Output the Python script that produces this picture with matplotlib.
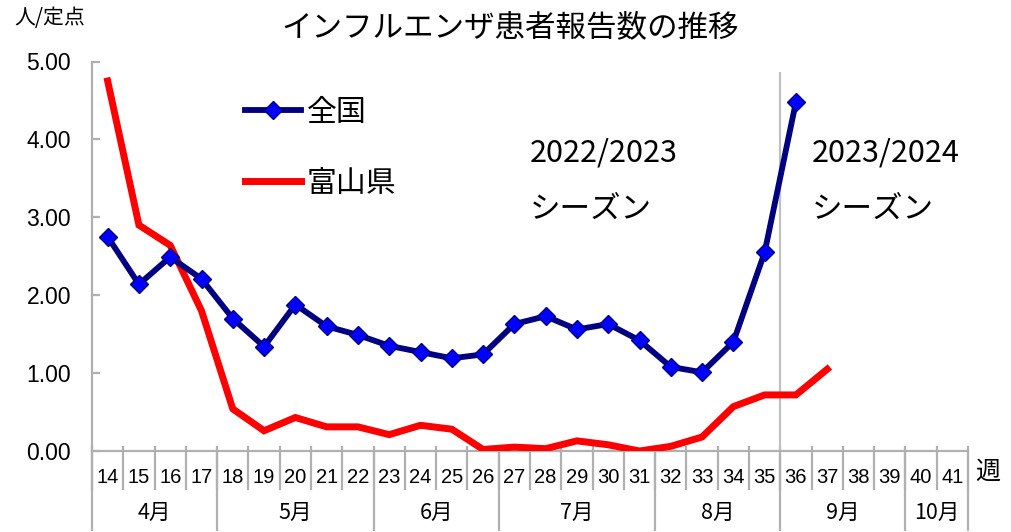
import matplotlib
matplotlib.use("Agg")
import matplotlib.pyplot as plt
import numpy as np

weeks = [str(w) for w in range(14, 42)]
national = [2.75, 2.14, 2.49, 2.21, 1.70, 1.34, 1.88, 1.60, 1.49, 1.35, 1.27, 1.19,
            1.24, 1.63, 1.73, 1.56, 1.63, 1.42, 1.08, 1.01, 1.40, 2.55, 4.48]
toyama = [4.75, 2.90, 2.64, 1.80, 0.54, 0.26, 0.43, 0.31, 0.31, 0.21, 0.33, 0.28,
          0.02, 0.05, 0.03, 0.13, 0.08, 0.00, 0.06, 0.18, 0.57, 0.72, 0.72, 1.05]
months = ["4月", "5月", "6月", "7月", "8月", "9月", "10月"]
month_weeks = [4, 5, 4, 5, 4, 4, 2]
yticks = [0, 1, 2, 3, 4, 5]
season_split = 21.5

JP = ["Noto Sans CJK JP", "DejaVu Sans"]
GRAY = "#b0b0b0"

fig = plt.figure(figsize=(10.11, 5.32), dpi=100)
W, H = 1011, 532
x0, x1, ytop, ybot = 92, 968, 61.5, 451
ax = fig.add_axes([x0 / W, 1 - ybot / H, (x1 - x0) / W, (ybot - ytop) / H])

x_nat = np.arange(len(national))
x_toy = np.arange(len(toyama))
ax.plot(x_toy, toyama, color="#ff0000", lw=5.0, solid_joinstyle="miter", label="富山県", zorder=3)
ax.plot(x_nat, national, color="#000080", lw=4.2, marker="D", markersize=9,
        markerfacecolor="#0000ff", markeredgecolor="#000080", markeredgewidth=1.0,
        label="全国", zorder=4)

ax.set_xlim(-0.5, len(weeks) - 0.5)
ax.set_ylim(0, 5)

for s in ["top", "right"]:
    ax.spines[s].set_visible(False)
for s in ["left", "bottom"]:
    ax.spines[s].set_color(GRAY)
    ax.spines[s].set_linewidth(1.6)

ax.set_yticks(yticks)
ax.set_yticklabels([f"{v:.2f}" for v in yticks], fontfamily="Liberation Sans", fontsize=16.5)
ax.tick_params(axis="y", direction="in", length=6, width=1.6, color=GRAY, pad=15)

ax.set_xticks(np.arange(len(weeks)))
ax.set_xticklabels(weeks, fontfamily=["Liberation Sans Narrow", "Liberation Sans"], fontsize=14.5)
ax.tick_params(axis="x", length=0, pad=12)

# week boundary ticks
trans = ax.get_xaxis_transform()
bounds = np.arange(len(weeks) + 1) - 0.5
hpx = ybot - ytop
ax.vlines(bounds, -39 / hpx, 5 / hpx, transform=trans, color=GRAY, lw=1.6, clip_on=False)
# month separators
cum = np.concatenate([[0], np.cumsum(month_weeks)]) - 0.5
ax.vlines(cum, -80 / hpx, 0, transform=trans, color=GRAY, lw=1.6, clip_on=False)
for i, m in enumerate(months):
    ax.text((cum[i] + cum[i + 1]) / 2, -62 / hpx, m, transform=trans, ha="center", va="center",
            fontfamily=JP, fontsize=15.5)

# season divider
ax.vlines([season_split], 0, 4.87, color="#c0c0c0", lw=1.6, zorder=2)

ax.text(1.0 + 7 / (x1 - x0), -21 / hpx, "週", transform=ax.transAxes, ha="left", va="center",
        fontfamily=JP, fontsize=18)

ax.text(0.5, 0.766, "2022/2023", transform=ax.transAxes, ha="left", va="center", fontfamily=JP, fontsize=22)
ax.text(0.5, 0.62, "シーズン", transform=ax.transAxes, ha="left", va="center", fontfamily=JP, fontsize=22)
ax.text(0.822, 0.766, "2023/2024", transform=ax.transAxes, ha="left", va="center", fontfamily=JP, fontsize=22)
ax.text(0.822, 0.62, "シーズン", transform=ax.transAxes, ha="left", va="center", fontfamily=JP, fontsize=22)

handles, labels = ax.get_legend_handles_labels()
leg = ax.legend(handles[::-1], labels[::-1], loc="upper left", bbox_to_anchor=(0.175, 0.91),
                frameon=False, prop={"family": JP, "size": 21.5}, handlelength=1.85,
                handletextpad=0.2, labelspacing=1.35, borderpad=0, borderaxespad=0)

fig.text(510 / W, 1 - 28 / H, "インフルエンザ患者報告数の推移", ha="center", va="center",
         fontfamily=JP, fontsize=22)
fig.text(50 / W, 1 - 18 / H, "人/定点", ha="center", va="center", fontfamily=JP, fontsize=15)

fig.savefig("out.png", dpi=100)
